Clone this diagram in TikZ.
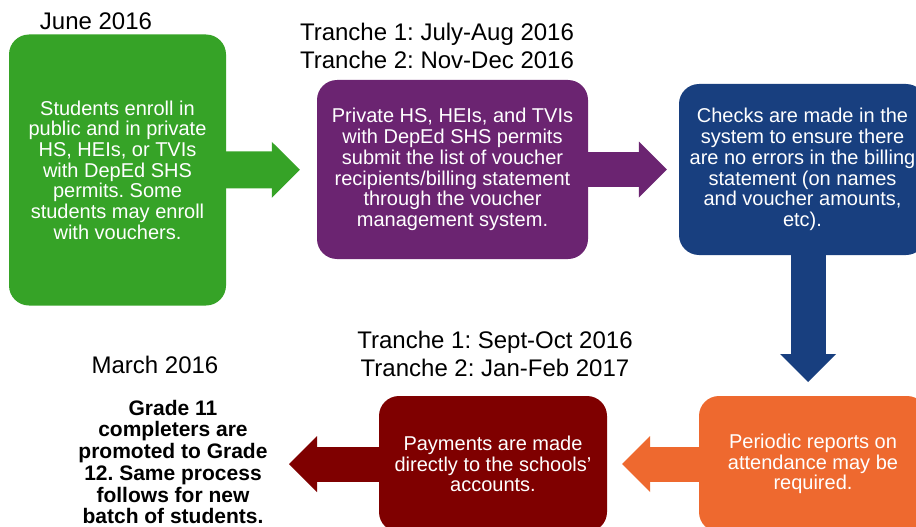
\documentclass[tikz,border=0pt]{standalone}
\usepackage{fontspec}
\setmainfont{Liberation Sans}
\usetikzlibrary{arrows.meta,positioning}
\definecolor{stepgreen}{HTML}{36A327}
\definecolor{steppurple}{HTML}{6B2471}
\definecolor{stepblue}{HTML}{183F7F}
\definecolor{steporange}{HTML}{EE692F}
\definecolor{stepred}{HTML}{7F0000}
\frenchspacing

\begin{document}
\begin{tikzpicture}[x=1pt, y=-1pt,
  stepbox/.style={rounded corners=20pt, text=white, align=center, inner sep=0pt,
    font=\fontsize{20}{20.7}\selectfont},
  datelabel/.style={align=center, font=\fontsize{24}{28}\selectfont},
  blockarrow/.style={line width=35pt, -{Triangle[width=56pt, length=28pt, line width=0pt]}}]
  \clip (0,0) rectangle (916,527);
  \fill[white] (0,0) rectangle (916,527);

  % Top row of steps
  \node[stepbox, fill=stepgreen, minimum width=217pt, minimum height=271pt] (enroll) at (117.5,170)
    {Students enroll in\\public and in private\\HS, HEIs, or TVIs\\with DepEd SHS\\permits. Some\\students may enroll\\with vouchers.};
  \node[stepbox, fill=steppurple, minimum width=271pt, minimum height=179pt] (submit) at (452.5,169.5)
    {Private HS, HEIs, and TVIs\\with DepEd SHS permits\\submit the list of voucher\\recipients/billing statement\\through the voucher\\management system.};
  \node[stepbox, fill=stepblue, minimum width=247pt, minimum height=171pt] (check) at (802.5,169.5)
    {Checks are made in the\\system to ensure there\\are no errors in the billing\\statement (on names\\and voucher amounts,\\etc).};

  % Bottom row of steps
  \node[stepbox, fill=steporange, minimum width=228pt, minimum height=136pt] (report) at (813,464)
    {Periodic reports on\\attendance may be\\required.};
  \node[stepbox, fill=stepred, minimum width=228pt, minimum height=136pt] (payment) at (493,464)
    {Payments are made\\directly to the schools'\\accounts.};
  \node[align=center, font=\bfseries\fontsize{21}{21.7}\selectfont] (promote) at (173,462)
    {Grade 11\\completers are\\promoted to Grade\\12. Same process\\follows for new\\batch of students.};

  % Dates
  \node[datelabel] (junedate) at (96,21) {June 2016};
  \node[datelabel] (billdate) at (437,46) {Tranche 1: July-Aug 2016\\Tranche 2: Nov-Dec 2016};
  \node[datelabel] (paydate) at (495,354) {Tranche 1: Sept-Oct 2016\\Tranche 2: Jan-Feb 2017};
  \node[datelabel] (marchdate) at (155,365) {March 2016};

  % Block arrows
  \coordinate (downtip) at (808,382);
  \coordinate (lefttip) at (289,464);
  \draw[blockarrow, line width=37pt, draw=stepgreen, shorten >=17pt] (enroll) -- (submit);
  \draw[blockarrow, draw=steppurple, shorten >=12pt] (submit) -- (check);
  \draw[blockarrow, draw=stepblue] (check.south -| downtip) -- (downtip);
  \draw[blockarrow, draw=steporange, shorten >=15pt] (report) -- (payment);
  \draw[blockarrow, draw=stepred] (payment) -- (lefttip);
\end{tikzpicture}
\end{document}
